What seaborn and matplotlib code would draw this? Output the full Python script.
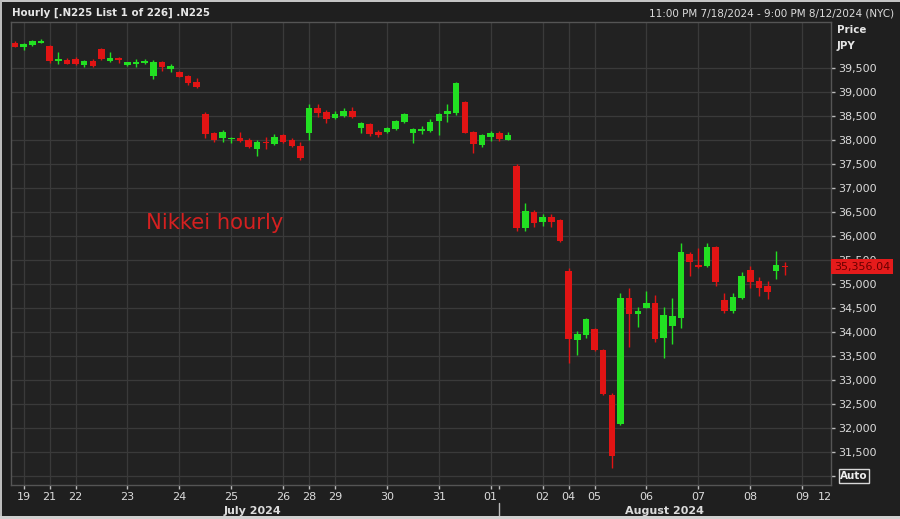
import matplotlib
matplotlib.use("Agg")
import matplotlib.pyplot as plt
import matplotlib.transforms as mtransforms
from matplotlib.patches import Rectangle
import numpy as np
import seaborn as sns

# Nikkei 225 hourly candles, 7/19 - 8/09 2024
opens = [40021, 39944, 39979, 40035, 39958, 39656, 39667, 39688, 39562, 39652,
         39896, 39646, 39715, 39562, 39583, 39620, 39340, 39625, 39479, 39423,
         39333, 39215, 38542, 38146, 38035, 38021, 38042, 38000, 37813, 37958,
         37917, 38104, 38000, 37875, 38146, 38673, 38590, 38458, 38506, 38604,
         38250, 38333, 38173, 38173, 38223, 38369, 38140, 38200, 38194, 38402,
         38535, 38569, 38798, 38173, 37896, 38069, 38152, 38000, 37465, 36160,
         36506, 36298, 36402, 36333, 35277, 33833, 33937, 34063, 33625, 32688,
         32077, 34715, 34375, 34506, 34598, 33881, 34125, 34292, 35625, 35385,
         35375, 35765, 34667, 34438, 34702, 35292, 35063, 34958, 35277, 35381]
highs = [40069, 40021, 40083, 40098, 39979, 39840, 39702, 39736, 39667, 39681,
         39923, 39840, 39736, 39632, 39681, 39681, 39667, 39646, 39583, 39444,
         39354, 39285, 38590, 38173, 38208, 38069, 38173, 38035, 38000, 38056,
         38125, 38118, 38035, 37965, 38750, 38750, 38625, 38611, 38660, 38694,
         38381, 38348, 38208, 38278, 38417, 38569, 38243, 38292, 38438, 38569,
         38744, 39215, 38819, 38194, 38125, 38194, 38188, 38173, 37500, 36681,
         36542, 36452, 36452, 36347, 35327, 34027, 34285, 34077, 33640, 32723,
         34819, 34923, 34527, 34854, 34771, 34527, 34708, 35854, 35673, 35750,
         35854, 35798, 34819, 34813, 35250, 35381, 35152, 35063, 35688, 35465]
lows = [39931, 39875, 39958, 40030, 39610, 39577, 39577, 39569, 39527, 39514,
        39667, 39625, 39610, 39542, 39527, 39583, 39271, 39444, 39423, 39313,
        39140, 39090, 38048, 37965, 37965, 37931, 37965, 37827, 37667, 37806,
        37896, 37931, 37848, 37583, 38000, 38486, 38360, 38431, 38486, 38452,
        38152, 38083, 38069, 38152, 38208, 38348, 37944, 38125, 38173, 38104,
        38381, 38521, 38140, 37735, 37861, 37985, 37985, 37990, 36110, 36110,
        36188, 36208, 36194, 35881, 33348, 33521, 33869, 33611, 32687, 31161,
        32063, 33694, 34098, 34494, 33798, 33452, 33744, 34083, 35173, 35333,
        35361, 34958, 34390, 34390, 34688, 34910, 34756, 34688, 35104, 35188]
closes = [39944, 40000, 40062, 40042, 39646, 39673, 39583, 39583, 39646, 39548,
          39681, 39715, 39667, 39625, 39632, 39628, 39632, 39514, 39542, 39319,
          39194, 39098, 38125, 38000, 38173, 38042, 37979, 37861, 37958, 37938,
          38063, 37965, 37865, 37625, 38667, 38563, 38438, 38542, 38604, 38486,
          38354, 38125, 38104, 38256, 38402, 38542, 38229, 38212, 38381, 38542,
          38611, 39188, 38152, 37917, 38104, 38152, 38015, 38104, 36160, 36527,
          36265, 36402, 36298, 35902, 33848, 33958, 34271, 33625, 32702, 31423,
          34715, 34375, 34438, 34611, 33848, 34354, 34340, 35667, 35465, 35365,
          35765, 35048, 34438, 34736, 35173, 35035, 34923, 34840, 35396, 35356]

# date axis: bar index where each NYC date starts
day_labels = ['19', '21', '22', '23', '24', '25', '26', '28', '29', '30', '31',
              '01', '02', '04', '05', '06', '07', '08', '09', '12']
day_pos = [1, 4, 7, 13, 19, 25, 31, 34, 37, 43, 49,
           55, 61, 64, 67, 73, 79, 85, 91, 93.6]
month_labels = ['July 2024', 'August 2024']
month_pos = [27.5, 75.1]
month_break = 55.95

price_ticks = list(range(31000, 40000, 500))
last_price = 35356.04

BG = '#1f1f1f'
PANEL = '#222222'
GRID = '#3a3a3a'
TXT = '#dcdcdc'
UP = '#22e022'
DOWN = '#e11414'

sns.set_theme(style="dark", rc={
    'figure.facecolor': BG,
    'axes.facecolor': PANEL,
    'axes.edgecolor': '#5a5a5a',
    'text.color': TXT,
    'xtick.color': TXT,
    'ytick.color': TXT,
})
plt.rcParams['font.family'] = ['DejaVu Sans']

W, H = 900, 519
fig = plt.figure(figsize=(W / 100, H / 100), dpi=100)
ax = fig.add_axes([11 / W, 1 - 485 / H, (830.7 - 11) / W, (485 - 22) / H])

o = np.array(opens, dtype=float)
c = np.array(closes, dtype=float)
idx = np.arange(len(o))
colors = [UP if cc >= oo else DOWN for oo, cc in zip(o, c)]
mid = (o + c) / 2
body = np.maximum(np.abs(c - o), 32)

ax.vlines(idx, lows, highs, colors=colors, linewidth=1, zorder=3)
ax.bar(idx, body, bottom=mid - body / 2, width=0.76, color=colors,
       linewidth=0, zorder=4)

ax.set_xlim(-0.46, 94.3)
ax.set_ylim(30812, 40458)

# axes, ticks, grid
ax.yaxis.tick_right()
ax.set_yticks(price_ticks)
ax.set_yticklabels(['' if p == 31000 else f'{p:,}' for p in price_ticks])
ax.tick_params(axis='y', length=3, width=1, pad=2.5, labelsize=8,
               colors='#bdbdbd', labelcolor=TXT)
ax.set_xticks(day_pos)
ax.set_xticklabels(day_labels)
ax.set_xticks([month_break], minor=True)
ax.tick_params(axis='x', which='both', length=3, width=1, pad=2, labelsize=8,
               colors='#bdbdbd', labelcolor=TXT, bottom=True)
last_tick = ax.xaxis.get_major_ticks()[-1]
last_tick.tick1line.set_visible(False)
ax.grid(True, which='major', color=GRID, linewidth=0.9)
ax.set_axisbelow(True)
last_tick.gridline.set_visible(False)
for s in ax.spines.values():
    s.set_color('#555555')
    s.set_linewidth(1)

# month labels under the date ticks
blend = mtransforms.blended_transform_factory(ax.transData, fig.transFigure)
for lab, pos in zip(month_labels, month_pos):
    ax.text(pos, 1 - 510.5 / H, lab, transform=blend, ha='center', va='center',
            fontsize=8, fontweight='bold', color=TXT)
ax.plot([month_break, month_break], [1 - 503 / H, 1 - 519 / H], transform=blend,
        color='#bdbdbd', linewidth=1, clip_on=False)

# last price tag and Auto box on the price scale
yblend = mtransforms.blended_transform_factory(ax.transAxes, ax.transData)
ax.text(1.0038, last_price, f'{last_price:,.2f}', transform=yblend,
        ha='left', va='center', fontsize=8, color='#6a0000', zorder=10,
        bbox=dict(boxstyle='square,pad=0.22', facecolor='#e51b1b', edgecolor='none'),
        clip_on=False)
ax.text(1.0115, 31000, 'Auto', transform=yblend, ha='left', va='center',
        fontsize=7.5, fontweight='bold', color='#eeeeee', clip_on=False,
        bbox=dict(boxstyle='square,pad=0.15', facecolor=BG, edgecolor='#d8d8d8',
                  linewidth=1))

# header texts
fig.text(12 / W, 1 - 12.5 / H, 'Hourly [.N225 List 1 of 226] .N225', ha='left',
         va='center', fontsize=7.4, fontweight='bold', color='#e6e6e6')
fig.text(894 / W, 1 - 13.5 / H, '11:00 PM 7/18/2024 - 9:00 PM 8/12/2024 (NYC)',
         ha='right', va='center', fontsize=7.5, color=TXT)
fig.text(837 / W, 1 - 30 / H, 'Price', ha='left', va='center', fontsize=7.4,
         fontweight='bold', color='#e6e6e6')
fig.text(837 / W, 1 - 46 / H, 'JPY', ha='left', va='center', fontsize=7.4,
         fontweight='bold', color='#e6e6e6')

# annotation inside the chart
ax.text(146 / W, 1 - 223 / H, 'Nikkei hourly', transform=fig.transFigure,
        ha='left', va='center', fontsize=15.2, color='#d42020')

# window frame bits
fig.add_artist(Rectangle((0, 1 - 2 / H), 1, 2 / H, transform=fig.transFigure,
                         facecolor='#c4c4c4', edgecolor='none'))
fig.add_artist(Rectangle((0, 0), 2 / W, 1, transform=fig.transFigure,
                         facecolor='#bdbdbd', edgecolor='none'))
fig.add_artist(Rectangle((0, 0), 1, 3.5 / H, transform=fig.transFigure,
                         facecolor='#d0d0d0', edgecolor='none'))

fig.savefig('out.png', dpi=100, facecolor=BG)
